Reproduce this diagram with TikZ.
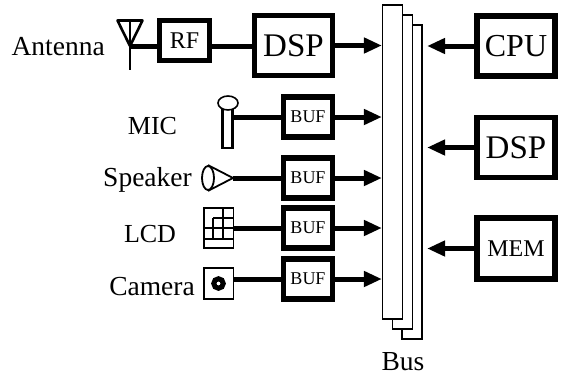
\documentclass[tikz,border=0pt]{standalone}
\usepackage{fontspec}
\setmainfont{Liberation Serif}
\usetikzlibrary{arrows.meta, shapes.geometric}

\begin{document}
\begin{tikzpicture}[
        x=1pt, y=-1pt,
        block/.style={rectangle, draw=black, fill=white, line width=5.5pt, inner sep=0pt, align=center},
        bigblock/.style={block, minimum width=78pt, minimum height=60pt, font=\fontsize{33}{33}\selectfont},
        bufblock/.style={block, minimum width=49pt, minimum height=40pt, font=\fontsize{18}{18}\selectfont},
        plate/.style={rectangle, draw=black, fill=white, line width=1.2pt, inner sep=0pt, minimum width=20pt, minimum height=314pt},
        icon/.style={rectangle, draw=black, line width=1.5pt, inner sep=0pt, minimum width=29.5pt},
        caption/.style={font=\fontsize{27.5}{27.5}\selectfont, inner sep=0pt},
        shortcaption/.style={font=\fontsize{26}{26}\selectfont, inner sep=0pt},
        wire/.style={line width=5pt},
        edge/.style={-{Triangle[length=18pt, width=15pt]}, line width=5pt}
    ]
        \useasboundingbox (0,0) rectangle (562,375);

        % Bus plates
        \node[plate] (busc) at (412,182) {};
        \node[plate] (busb) at (402.5,172) {};
        \node[plate] (busa) at (392.5,162) {};
        \node[caption, anchor=base] (bus) at (403,370) {Bus};

        % Radio chain
        \node[block, minimum width=50pt, minimum height=40pt, font=\fontsize{24}{24}\selectfont] (rf) at (184.5,40.5) {RF};
        \node[bigblock] (dspa) at (293.5,45.5) {DSP};
        \node[caption, anchor=base east] (antennatext) at (105,55) {Antenna};
        \coordinate (mast) at (130,46);
        \coordinate (masttop) at (130,21);
        \coordinate (mastfoot) at (130,70);
        \draw[line width=2.6pt, line join=round] (117.5,20.5) -- (142.5,20.5) -- (mast) -- cycle;
        \draw[line width=2.8pt] (masttop) -- (mastfoot);

        % Buffers
        \node[bufblock] (bufa) at (308,117) {BUF};
        \node[bufblock] (bufb) at (308,178) {BUF};
        \node[bufblock] (bufc) at (308,228) {BUF};
        \node[bufblock] (bufd) at (308,279) {BUF};

        % Right column
        \node[bigblock, font=\fontsize{32}{32}\selectfont] (cpu) at (516,46) {CPU};
        \node[bigblock] (dspb) at (516,147.5) {DSP};
        \node[bigblock, minimum height=61pt, font=\fontsize{24}{24}\selectfont] (mem) at (516,248.5) {MEM};

        % Peripherals
        \node[shortcaption, anchor=base] (mictext) at (152.5,134) {MIC};
        \node[icon, line width=2.2pt, minimum width=10pt, minimum height=40pt] (mic) at (227.5,128) {};
        \node[ellipse, draw=black, fill=white, line width=1.6pt, inner sep=0pt, minimum width=20pt, minimum height=14pt] (micball) at (228,103) {};

        \node[caption, anchor=base east] (speakertext) at (192,186) {Speaker};
        \coordinate (apex) at (233,178);
        \node[ellipse, draw=black, line width=1.8pt, inner sep=0pt, minimum width=12pt, minimum height=24pt] (cone) at (208,178) {};
        \draw[line width=1.8pt] (cone.north) -- (apex) -- (cone.south);

        \node[shortcaption, anchor=base] (lcdtext) at (150,242) {LCD};
        \node[icon, minimum height=40pt] (lcd) at (218.5,228) {};
        \draw[line width=1.2pt] (lcd.west |- 0,239) -- (lcd.east |- 0,239);
        \draw[line width=1.8pt] (lcd.west) -- (lcd.east);
        \draw[line width=1.2pt] (213,218) -- (lcd.east |- 0,218);
        \draw[line width=1.2pt] (213,218) -- (213,239);
        \draw[line width=1.2pt] (223,208) -- (223,239);

        \node[caption, anchor=base east] (cameratext) at (195,295) {Camera};
        \node[icon, minimum height=31pt] (camera) at (218.5,283.5) {};
        \node[circle, draw=black, line width=5pt, fill=white, inner sep=0pt, minimum size=9.5pt] (lens) at (camera) {};

        % Connections
        \draw[wire] (mast) -- (mast -| rf.west);
        \draw[wire] (mast -| rf.east) -- (mast -| dspa.west);
        \draw[edge] (dspa.east) -- (busa.west |- dspa);
        \draw[wire] (mic.east |- bufa) -- (bufa);
        \draw[wire] (apex) -- (bufb);
        \draw[wire] (lcd.east) -- (bufc);
        \draw[wire] (camera.east |- bufd) -- (bufd);
        \draw[edge] (bufa.east) -- (busa.west |- bufa);
        \draw[edge] (bufb.east) -- (busa.west |- bufb);
        \draw[edge] (bufc.east) -- (busa.west |- bufc);
        \draw[edge] (bufd.east) -- (busa.west |- bufd);
        \draw[edge, shorten >=4.5pt] (cpu.west) -- (busc.east |- cpu);
        \draw[edge, shorten >=4.5pt] (dspb.west) -- (busc.east |- dspb);
        \draw[edge, shorten >=4.5pt] (mem.west) -- (busc.east |- mem);
    \end{tikzpicture}
\end{document}
